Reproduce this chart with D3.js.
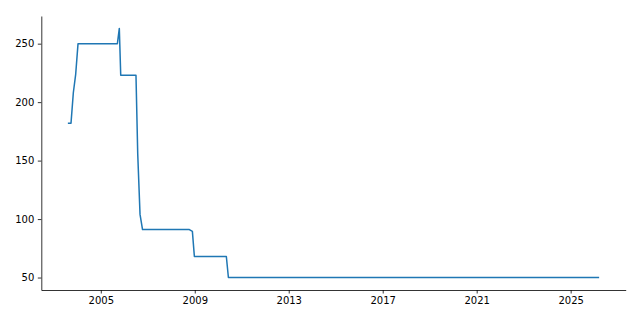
<!DOCTYPE html>
<html>
<head>
<meta charset="utf-8">
<script src="https://cdn.jsdelivr.net/npm/d3@7"></script>
<style>
  body { margin: 0; background: #fff; }
  svg { display: block; }
  .tick text { font-family: "DejaVu Sans", sans-serif; font-size: 10px; fill: #000; }
</style>
</head>
<body>
<svg id="chart" width="640" height="320"></svg>
<script>
// dates and values
const dates = [
  "2003-08-08", "2003-09-26", "2003-11-01", "2003-12-08", "2004-01-13",
  "2005-09-16", "2005-10-16", "2005-11-07", "2006-07-02", "2006-07-29",
  "2006-09-03", "2006-10-12", "2008-10-09", "2008-11-25", "2008-12-26",
  "2010-05-07", "2010-06-08", "2026-03-20"
];
const values = [
  182, 182, 208, 224, 250,
  250, 263, 223, 223, 156,
  104, 91, 91, 89.5, 68,
  68, 50, 50
];
const xTickYears = [2005, 2009, 2013, 2017, 2021, 2025];
const yTicks = [50, 100, 150, 200, 250];

const parse = d3.timeParse("%Y-%m-%d");
const data = dates.map((d, i) => ({ date: parse(d), value: values[i] }));

const svg = d3.select("#chart");
const plotLeft = 41.3, plotRight = 625.7, plotTop = 16, plotBottom = 290;

// matplotlib-style 5% margins
const xExt = d3.extent(data, d => +d.date);
const xPad = (xExt[1] - xExt[0]) * 0.05;
const x = d3.scaleTime()
  .domain([new Date(xExt[0] - xPad), new Date(xExt[1] + xPad)])
  .range([plotLeft, plotRight]);

const yExt = d3.extent(values);
const yPad = (yExt[1] - yExt[0]) * 0.05;
const y = d3.scaleLinear()
  .domain([yExt[0] - yPad, yExt[1] + yPad])
  .range([plotBottom, plotTop]);

const xAxis = svg.append("g")
  .attr("transform", `translate(0,${plotBottom})`)
  .call(d3.axisBottom(x)
    .tickValues(xTickYears.map(yr => new Date(yr, 0, 1)))
    .tickFormat(d3.timeFormat("%Y"))
    .tickSize(3.5)
    .tickPadding(3.5)
    .tickSizeOuter(0));

const yAxis = svg.append("g")
  .attr("transform", `translate(${plotLeft},0)`)
  .call(d3.axisLeft(y)
    .tickValues(yTicks)
    .tickSize(3.5)
    .tickPadding(3.5)
    .tickSizeOuter(0));

[xAxis, yAxis].forEach(g => {
  g.selectAll("path.domain").attr("stroke", "#000").attr("stroke-width", 0.8);
  g.selectAll(".tick line").attr("stroke", "#000").attr("stroke-width", 0.8);
});

const line = d3.line()
  .x(d => x(d.date))
  .y(d => y(d.value));

svg.append("path")
  .datum(data)
  .attr("fill", "none")
  .attr("stroke", "#1f77b4")
  .attr("stroke-width", 1.5)
  .attr("stroke-linejoin", "round")
  .attr("d", line);
</script>
</body>
</html>
